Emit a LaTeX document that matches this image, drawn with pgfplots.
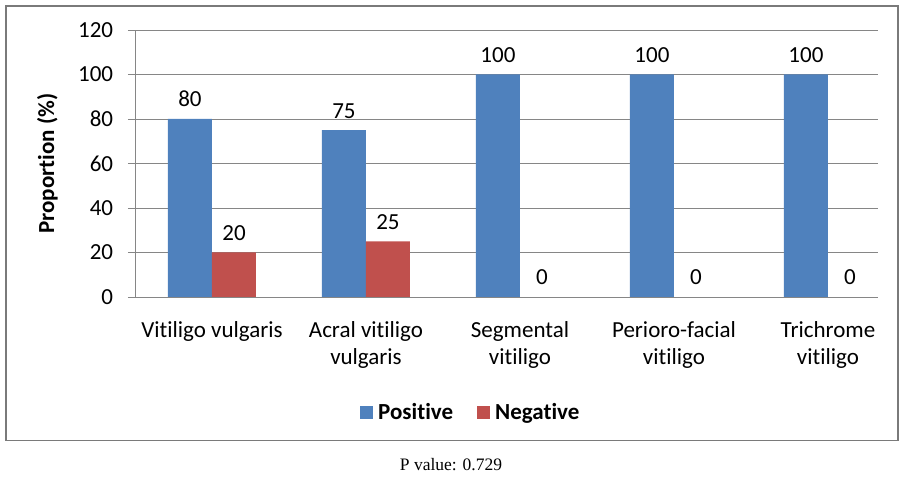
\documentclass[border=0pt]{standalone}
\usepackage{pgfplots}
\pgfplotsset{compat=1.18}
\usepackage{fontspec}
\setmainfont{Carlito}[Ligatures={NoCommon}]
\newfontfamily\tnr{Liberation Serif}
\definecolor{posblue}{HTML}{4F81BD}
\definecolor{negred}{HTML}{C0504D}
\definecolor{axgray}{HTML}{868686}
\definecolor{framegray}{HTML}{7A7A7A}
\newcommand{\chartfont}{\fontsize{23}{27}\selectfont}
\begin{document}
\chartfont
\begin{tikzpicture}
% page size = reference size, 1px = 1pt, y measured from the bottom
\path[use as bounding box] (0pt,0pt) rectangle (907pt,478pt);
\draw[framegray, line width=1.6pt] (5.8pt,472.2pt) rectangle (898pt,37.5pt);
\node[font=\tnr\fontsize{17.5}{20}\selectfont, anchor=base] at (451pt,7pt) {P value: 0.729};
\begin{axis}[
    at={(135pt,181pt)}, anchor=south west,
    width=743pt, height=267pt, scale only axis,
    ybar, bar width=44pt,
    xmin=-0.5, xmax=4.325, ymin=0, ymax=120,
    enlargelimits=false,
    axis x line*=bottom, axis y line*=left,
    axis line style={axgray, line width=0.8pt},
    ytick={0,20,...,120},
    ymajorgrids, grid style={axgray, line width=0.8pt},
    xtick={0,...,4},
    xticklabels={Vitiligo vulgaris, {Acral vitiligo\\vulgaris}, {Segmental\\vitiligo}, {Perioro-facial\\vitiligo}, {Trichrome\\vitiligo}},
    xtick style={draw=none},
    minor xtick={-0.5,0.5,1.5,2.5,3.5},
    minor tick length=7pt,
    tick align=outside, major tick length=7pt,
    tick style={axgray, line width=0.8pt},
    ticklabel style={font=\chartfont},
    xticklabel style={align=center, text depth=0pt, yshift=-10pt},
    yticklabel style={xshift=-7pt},
    /pgf/number format/assume math mode=true,
    ylabel={\bfseries Proportion (\%)},
    ylabel style={at={(axis description cs:-0.118,0.5)}, anchor=center, font=\chartfont},
    nodes near coords,
    every node near coord/.append style={yshift=4pt, font=\chartfont},
    legend columns=2,
    legend style={at={(0.452,-0.434)}, anchor=center, draw=none, fill=none,
        font=\bfseries\chartfont,
        /tikz/every odd column/.append style={column sep=3pt},
        /tikz/every even column/.append style={column sep=22pt}},
    legend image code/.code={\fill[#1] (0pt,-6.5pt) rectangle (13pt,6.5pt);},
]
\addplot[fill=posblue, draw=none, bar shift=-22pt] coordinates {(0,80) (1,75) (2,100) (3,100) (4,100)};
\addplot[fill=negred, draw=none, bar shift=22pt] coordinates {(0,20) (1,25)};
\legend{Positive, Negative}
% the zero-valued negative bars: nothing drawn, only their labels
\addplot[draw=none, fill=none, bar shift=22pt, forget plot] coordinates {(2,0) (3,0) (4,0)};
\end{axis}
\end{tikzpicture}
\end{document}
